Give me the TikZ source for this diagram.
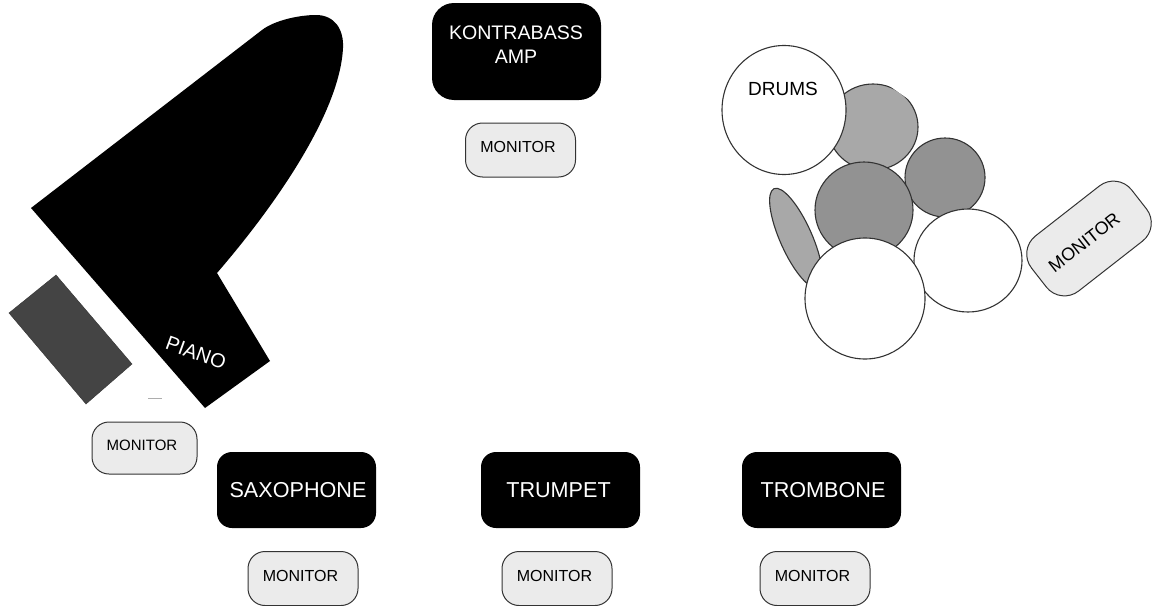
\documentclass[tikz,border=0pt]{standalone}
\usepackage{fontspec}
\setmainfont{Liberation Sans}
\usepackage{tikz}
\usetikzlibrary{shapes.geometric}
\definecolor{StageBlack}{HTML}{000000}
\definecolor{StageLine}{HTML}{333333}
\definecolor{MonitorGrey}{HTML}{EBEBEB}
\definecolor{BenchGrey}{HTML}{444444}
\definecolor{CymbalGrey}{HTML}{A8A8A8}
\definecolor{TomGrey}{HTML}{929292}
\newcommand{\monlabel}{\raisebox{6pt}{MONITOR\hspace{5pt}}}

\begin{document}
\begin{tikzpicture}[x=1pt,y=-1pt]
  \tikzstyle{monitorbox}=[draw=StageLine,fill=MonitorGrey,rounded corners=17pt,line width=1pt,
    minimum width=110pt,minimum height=54pt,inner sep=0pt,
    font=\fontsize{16}{18}\selectfont]
  \tikzstyle{playerbox}=[fill=StageBlack,text=white,rounded corners=15pt,
    minimum width=159pt,minimum height=76pt,inner sep=0pt,
    font=\fontsize{21.6}{24}\selectfont]
  \tikzstyle{drumshape}=[ellipse,draw=StageLine,line width=1.1pt,inner sep=0pt]
  \useasboundingbox (0,0) rectangle (1153,605);
  % piano and bench
  \fill[StageBlack] (31,208) -- (262,30) .. controls (275,20) and (300,15) .. (316,15)
    .. controls (335,15) and (344,30) .. (343,48)
    .. controls (340,110) and (280,200) .. (217,273) -- (270,361) -- (205,408) -- cycle;
  \draw[draw=StageLine,fill=BenchGrey] (56,275) -- (9,313) -- (86,404) -- (132,364) -- cycle;
  \draw[StageLine!40,line width=0.6pt] (148,398.5) -- (162,398.5);
  \node[rotate=-20,text=white,font=\fontsize{20}{22}\selectfont,inner sep=0pt] (piano) at (196,353) {PIANO};
  % amp and players
  \node[playerbox,minimum width=169pt,minimum height=97pt,rounded corners=22pt] (amp) at (516.5,51.5) {};
  \node[text=white,align=center,inner sep=0pt,font=\fontsize{19.6}{24}\selectfont] (amplabel) at (516,45) {KONTRABASS\\AMP};
  \node[playerbox] (sax) at (296.5,490) {\hspace{3pt}SAXOPHONE};
  \node[playerbox] (trumpet) at (560.5,490) {TRUMPET\kern4pt};
  \node[playerbox] (trombone) at (821.5,490) {\hspace{3pt}TROMBONE};
  % monitors
  \node[monitorbox] (monamp) at (520.5,150) {\monlabel};
  \node[monitorbox,minimum width=105pt,minimum height=52pt,font=\fontsize{15}{17}\selectfont] (monpiano) at (144.5,448) {\monlabel};
  \node[monitorbox] (monsax) at (303,578.5) {\monlabel};
  \node[monitorbox] (montrumpet) at (557,578.5) {\monlabel};
  \node[monitorbox] (montrombone) at (815,578.5) {\monlabel};
  \node[monitorbox,rotate=38,minimum width=127pt,minimum height=70pt,rounded corners=23pt,
    font=\fontsize{18}{20}\selectfont] (mondrums) at (1089,238.5) {MONITOR\kern12pt};
  % drums
  \node[drumshape,fill=CymbalGrey,minimum width=90pt,minimum height=86pt] (tomhigh) at (873,127) {};
  \fill[white] (886,83.5) -- (916,104.5) -- (925,78) -- cycle;
  \node[drumshape,fill=white,minimum width=124pt,minimum height=129pt] (crash) at (784,110) {};
  \node[inner sep=0pt,font=\fontsize{19}{21}\selectfont] (drums) at (783,89) {DRUMS};
  \node[drumshape,fill=TomGrey,minimum width=80pt,minimum height=79pt] (tomlow) at (945,177.5) {};
  \node[drumshape,fill=TomGrey,minimum width=98pt,minimum height=96pt] (tommid) at (864,210) {};
  \node[drumshape,fill=CymbalGrey,minimum width=108pt,minimum height=32pt,rotate=-66] (hihat) at (796,238) {};
  \node[drumshape,fill=white,minimum width=108pt,minimum height=103pt] (floor) at (968,260.5) {};
  \node[drumshape,fill=white,minimum width=120pt,minimum height=121pt] (kick) at (865,298.5) {};
\end{tikzpicture}
\end{document}
